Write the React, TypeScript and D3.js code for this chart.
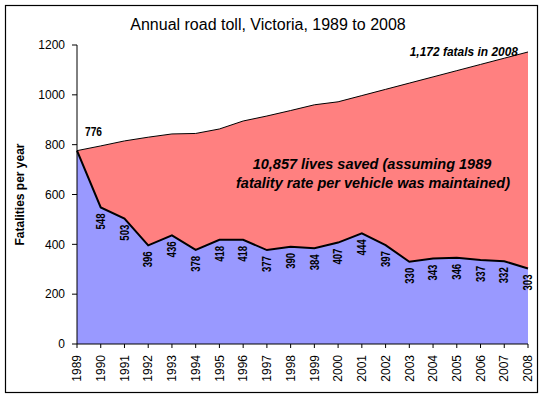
import React from "react";
import * as d3 from "d3";

const years = [
  "1989", "1990", "1991", "1992", "1993", "1994", "1995", "1996", "1997", "1998",
  "1999", "2000", "2001", "2002", "2003", "2004", "2005", "2006", "2007", "2008",
];
// actual road deaths
const actual = [
  776, 548, 503, 396, 436, 378, 418, 418, 377, 390,
  384, 407, 444, 397, 330, 343, 346, 337, 332, 303,
];
// deaths if the 1989 rate per vehicle had held
const projected = [
  776, 795, 815, 830, 843, 845, 863, 895, 915, 937,
  960, 972, 997, 1022, 1047, 1072, 1097, 1122, 1147, 1172,
];
const yTicks = [0, 200, 400, 600, 800, 1000, 1200];

const W = 545;
const H = 399;
const margin = { top: 45, right: 17, bottom: 55, left: 77 };
const font = "'Liberation Sans', Arial, sans-serif";

export default function App() {
  const x = d3
    .scalePoint<string>()
    .domain(years)
    .range([margin.left, W - margin.right]);
  const y = d3
    .scaleLinear()
    .domain([0, 1200])
    .range([H - margin.bottom, margin.top]);

  const rows = years.map((yr, i) => ({ yr, a: actual[i], p: projected[i] }));

  const redArea = d3
    .area<any>()
    .x((d) => x(d.yr)!)
    .y0(y(0))
    .y1((d) => y(d.p));
  const blueArea = d3
    .area<any>()
    .x((d) => x(d.yr)!)
    .y0(y(0))
    .y1((d) => y(d.a));
  const topLine = d3
    .line<any>()
    .x((d) => x(d.yr)!)
    .y((d) => y(d.p));
  const actualLine = d3
    .line<any>()
    .x((d) => x(d.yr)!)
    .y((d) => y(d.a));

  const x0 = margin.left;
  const yBase = y(0);

  return (
    <svg
      width={W}
      height={H}
      style={{ position: "absolute", left: 0, top: 0, background: "#fff" }}
    >
      <rect x={5.5} y={5.5} width={532} height={387} fill="#fff" stroke="#000" strokeWidth={1.2} />

      <text x={268} y={30} textAnchor="middle" fontFamily={font} fontSize={16}>
        Annual road toll, Victoria, 1989 to 2008
      </text>

      <path d={redArea(rows)!} fill="#FF8080" />
      <path d={topLine(rows)!} fill="none" stroke="#000" strokeWidth={1} />
      <path d={blueArea(rows)!} fill="#9999FF" />
      <path d={actualLine(rows)!} fill="none" stroke="#000" strokeWidth={2} />

      {/* y axis */}
      <line x1={x0} x2={x0} y1={y(1200)} y2={yBase} stroke="#000" />
      {yTicks.map((t) => (
        <g key={t}>
          <line x1={x0 - 5} x2={x0} y1={y(t)} y2={y(t)} stroke="#000" />
          <text
            x={x0 - 12}
            y={y(t)}
            dy="0.35em"
            textAnchor="end"
            fontFamily={font}
            fontSize={12}
          >
            {t}
          </text>
        </g>
      ))}
      <text
        transform={`translate(24, ${(y(0) + y(1200)) / 2}) rotate(-90)`}
        textAnchor="middle"
        fontFamily={font}
        fontSize={12}
        fontWeight="bold"
      >
        Fatalities per year
      </text>

      {/* x axis */}
      <line x1={x0} x2={x(years[years.length - 1])!} y1={yBase} y2={yBase} stroke="#000" />
      {years.map((yr) => (
        <g key={yr}>
          <line x1={x(yr)!} x2={x(yr)!} y1={yBase} y2={yBase + 4} stroke="#000" />
          <text
            transform={`translate(${x(yr)}, ${yBase + 11}) rotate(-90)`}
            dy="0.35em"
            textAnchor="end"
            fontFamily={font}
            fontSize={12}
          >
            {yr}
          </text>
        </g>
      ))}

      {/* data labels, condensed like Arial Narrow */}
      {rows.slice(1).map((d) => (
        <text
          key={d.yr}
          transform={`translate(${x(d.yr)}, ${y(d.a) + 6}) rotate(-90) scale(0.8, 1)`}
          dy="0.35em"
          textAnchor="end"
          fontFamily={font}
          fontSize={12}
          fontWeight="bold"
        >
          {d.a}
        </text>
      ))}
      <text
        transform={`translate(${x(years[0])! + 8}, ${y(actual[0]) - 15}) scale(0.85, 1)`}
        fontFamily={font}
        fontSize={12}
        fontWeight="bold"
      >
        {actual[0]}
      </text>

      {/* annotations */}
      <text
        transform={`translate(${x(years[years.length - 1])! - 10}, 56) scale(0.92, 1)`}
        textAnchor="end"
        fontFamily={font}
        fontSize={13}
        fontWeight="bold"
        fontStyle="italic"
      >
        1,172 fatals in 2008
      </text>
      <text textAnchor="middle" fontFamily={font} fontSize={14.5} fontWeight="bold" fontStyle="italic">
        <tspan x={372} y={169}>10,857 lives saved (assuming 1989</tspan>
        <tspan x={373} y={188}>fatality rate per vehicle was maintained)</tspan>
      </text>
    </svg>
  );
}
